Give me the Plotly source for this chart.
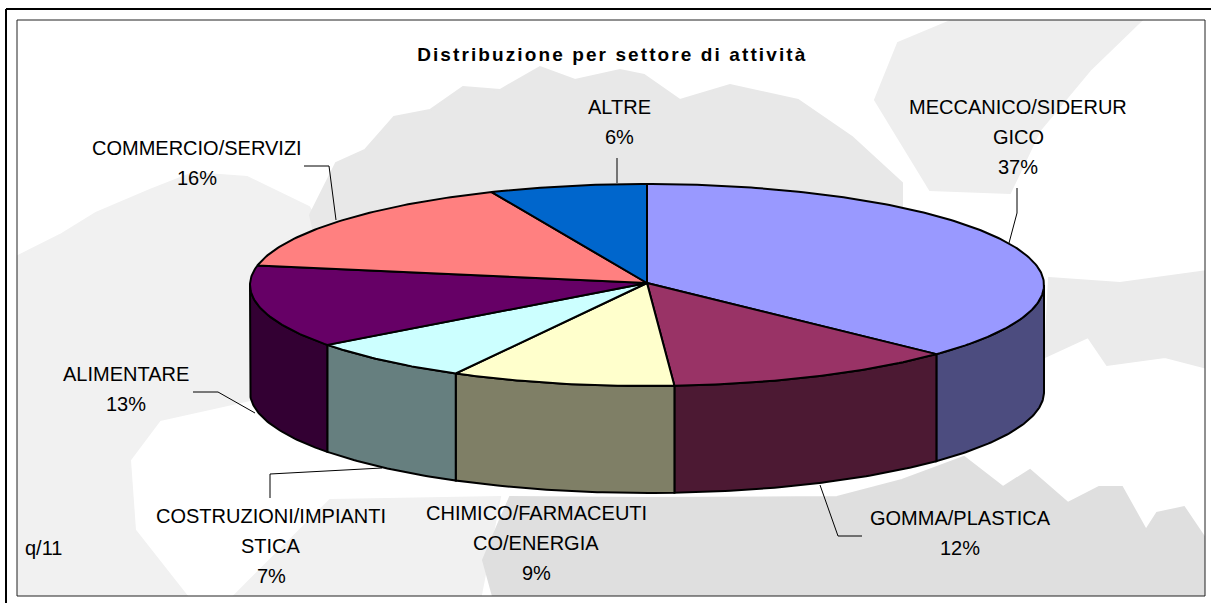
import numpy as np
import plotly.graph_objects as go

# ---- data ----
sectors = ["MECCANICO/SIDERURGICO", "GOMMA/PLASTICA", "CHIMICO/FARMACEUTICO/ENERGIA",
           "COSTRUZIONI/IMPIANTISTICA", "ALIMENTARE", "COMMERCIO/SERVIZI", "ALTRE"]
values = [37.0, 11.9, 9.1, 6.9, 13.2, 15.5, 6.4]
top_colors = ["#9999FF", "#993366", "#FFFFCC", "#CCFFFF", "#660066", "#FF8080", "#0066CC"]
side_colors = ["#4C4C7F", "#4C1933", "#7F7F66", "#667F7F", "#330033", "#7F4040", "#003366"]
label_lines = [["MECCANICO/SIDERUR", "GICO"], ["GOMMA/PLASTICA"], ["CHIMICO/FARMACEUTI", "CO/ENERGIA"],
               ["COSTRUZIONI/IMPIANTI", "STICA"], ["ALIMENTARE"], ["COMMERCIO/SERVIZI"], ["ALTRE"]]
label_x = [1018, 960, 536, 271, 126, 197, 619]
label_y = [107, 518, 513, 516, 374, 148, 107]
title_text = "Distribuzione per settore di attività"
note_text = "q/11"

# ---- geometry of the drawing ----
CX, CY, AY, RX, RY, DEPTH = 647, 285, 283, 397, 101, 107
leaders = [
    [(1017, 188), (1017, 213), (1009, 243)],
    [(820, 485), (838, 536), (862, 536)],
    [(270, 498), (270, 474), (382, 468)],
    [(193, 392), (218, 392), (255, 413)],
    [(304, 166), (329, 166), (336, 220)],
    [(617, 158), (617, 183)],
]
watermark = [
    ("#f1f1f1", [(10, 260), (60, 235), (96, 213), (150, 190), (193, 173), (247, 177), (309, 207), (330, 240),
                 (330, 350), (250, 400), (160, 420), (130, 460), (135, 530), (190, 600), (10, 600)]),
    ("#e8e8e8", [(310, 215), (336, 163), (365, 150), (394, 117), (430, 110), (463, 87), (500, 90), (540, 67),
                 (575, 80), (620, 70), (644, 75), (680, 100), (730, 85), (798, 100), (852, 137), (902, 183),
                 (902, 300), (330, 300)]),
    ("#eeeeee", [(898, 43), (972, 12), (1150, 12), (1090, 70), (1040, 130), (1010, 193), (930, 190), (875, 100)]),
    ("#ebebeb", [(1049, 278), (1120, 283), (1215, 270), (1215, 370), (1165, 357), (1107, 365), (1088, 337),
                 (1045, 357)]),
    ("#f1f1f1", [(330, 500), (500, 497), (480, 600), (230, 600)]),
    ("#dfdfdf", [(1215, 600), (1215, 553), (1184, 507), (1157, 513), (1146, 530), (1122, 487), (1099, 487),
                 (1068, 503), (1030, 470), (1003, 487), (964, 457), (937, 467), (902, 480), (837, 497), (644, 498),
                 (510, 497), (500, 520), (483, 560), (494, 600)]),
]

fracs = np.cumsum([0] + values) / sum(values)
angles = fracs * 2 * np.pi


def rim(a0, a1, drop=0.0):
    t = np.linspace(a0, a1, max(int(abs(a1 - a0) * 80), 2))
    return CX + RX * np.sin(t), CY - RY * np.cos(t) + drop


fig = go.Figure()
BLACK = dict(color="black", width=2)
FRONT0, FRONT1 = np.pi / 2, 3 * np.pi / 2

# side walls
for i, c in enumerate(side_colors):
    a0, a1 = max(angles[i], FRONT0), min(angles[i + 1], FRONT1)
    if a1 <= a0:
        continue
    x, y = rim(a0, a1)
    xb, yb = rim(a0, a1, DEPTH)
    fig.add_trace(go.Scatter(x=np.r_[x, xb[::-1], x[0]], y=np.r_[y, yb[::-1], y[0]], mode="lines", fill="toself",
                             fillcolor=c, line=BLACK, hoverinfo="skip", showlegend=False, name=sectors[i]))

# top slices
for i, c in enumerate(top_colors):
    x, y = rim(angles[i], angles[i + 1])
    fig.add_trace(go.Scatter(x=np.r_[CX, x, CX], y=np.r_[AY, y, AY], mode="lines", fill="toself",
                             fillcolor=c, line=BLACK, name=sectors[i], showlegend=False,
                             text=f"{sectors[i]}: {values[i]:.0f}%", hoverinfo="text"))

# leader lines
for pts in leaders:
    fig.add_trace(go.Scatter(x=[p[0] for p in pts], y=[p[1] for p in pts], mode="lines",
                             line=dict(color="black", width=1), hoverinfo="skip", showlegend=False))

FONT = "Liberation Sans, Arial, sans-serif"
ann = []
for lines, v, x0, y0 in zip(label_lines, values, label_x, label_y):
    for k, s in enumerate(lines + [f"{round(v)}%"]):
        ann.append(dict(x=x0, y=y0 + 30 * k, text=s, showarrow=False, xref="x", yref="y",
                        font=dict(family=FONT, size=20, color="black")))
ann.append(dict(x=23, y=548, text=note_text, showarrow=False, xanchor="left", xref="x", yref="y",
                font=dict(family=FONT, size=20, color="black")))
ann.append(dict(x=612, y=54, text="<b>" + title_text + "</b>", showarrow=False, xref="x", yref="y",
                font=dict(family=FONT, size=19, color="black")))

shapes = []
for col, pts in watermark:
    path = "M" + " L".join(f"{x},{y}" for x, y in pts) + " Z"
    shapes.append(dict(type="path", path=path, xref="x", yref="y", layer="below", fillcolor=col,
                       line=dict(color=col, width=2)))
# white surround that hides the watermark outside the inner frame
for x0, y0, x1, y1 in [(0, 0, 17, 603), (1205, 0, 1211, 603), (0, 0, 1211, 20), (0, 596, 1211, 603)]:
    shapes.append(dict(type="rect", x0=x0, y0=y0, x1=x1, y1=y1, xref="x", yref="y", layer="between",
                       fillcolor="white", line=dict(width=0)))
shapes.append(dict(type="rect", x0=17, y0=20, x1=1205, y1=596, xref="x", yref="y", layer="between",
                   fillcolor="rgba(0,0,0,0)", line=dict(color="#222222", width=1)))
shapes.append(dict(type="line", x0=6, y0=9, x1=1211, y1=9, xref="x", yref="y", layer="between",
                   line=dict(color="black", width=2)))
shapes.append(dict(type="line", x0=6, y0=9, x1=6, y1=603, xref="x", yref="y", layer="between",
                   line=dict(color="black", width=2)))

fig.update_layout(
    width=1211, height=603, margin=dict(l=0, r=0, t=0, b=0), paper_bgcolor="white", plot_bgcolor="white",
    xaxis=dict(range=[0, 1211], visible=False, fixedrange=True),
    yaxis=dict(range=[603, 0], visible=False, fixedrange=True),
    annotations=ann, shapes=shapes, showlegend=False,
)

post = """
document.body.style.margin='0';document.body.style.overflow='hidden';
document.querySelectorAll('.annotation-text').forEach(function(t){
  if(t.textContent.indexOf('Distribuzione')===0){t.style.letterSpacing='2.1px';}
});
document.querySelectorAll('.layer-below .shapelayer path').forEach(function(p){p.style.filter='blur(5px)';});
"""
fig.write_html("out.html", post_script=post, config={"displayModeBar": False})
